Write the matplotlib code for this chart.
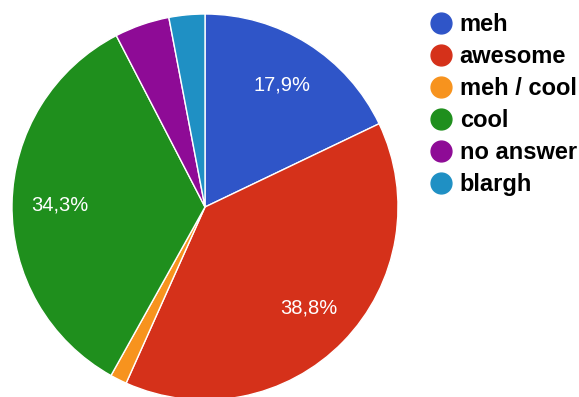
import matplotlib.pyplot as plt
from matplotlib.lines import Line2D

plt.rcParams['font.family'] = ['Liberation Sans', 'DejaVu Sans']

labels = ['meh', 'awesome', 'meh / cool', 'cool', 'no answer', 'blargh']
values = [17.9, 38.8, 1.4, 34.3, 4.6, 3.0]
colors = ['#2f55c8', '#d5311a', '#f7931e', '#1f8f1d', '#8e0b96', '#1f90c4']


def pct_label(p):
    # only the big slices get a label, decimal comma as in the original
    if p < 10:
        return ''
    return f'{p:.1f}%'.replace('.', ',')


fig = plt.figure(figsize=(5.79, 3.97), dpi=100)
ax = fig.add_axes([12 / 579, (397 - 207 - 193) / 397, 386 / 579, 386 / 397])

wedges, texts, autotexts = ax.pie(
    values, colors=colors, startangle=90, counterclock=False,
    autopct=pct_label, pctdistance=0.75,
    wedgeprops=dict(edgecolor='white', linewidth=1),
    textprops=dict(color='white', fontsize=14.5))
ax.set_xlim(-1, 1)
ax.set_ylim(-1, 1)
ax.set_aspect('equal')
ax.axis('off')

handles = [Line2D([], [], marker='o', linestyle='', markersize=15,
                  markerfacecolor=c, markeredgecolor=c) for c in colors]
fig.legend(handles, labels, loc='upper left', bbox_to_anchor=(429 / 579, 1 - 13 / 397),
           frameon=False, handlelength=1.0, handletextpad=0.3, labelspacing=0.38,
           borderaxespad=0, borderpad=0,
           prop=dict(size=17, weight='bold'))

fig.savefig('out.png', dpi=100)
